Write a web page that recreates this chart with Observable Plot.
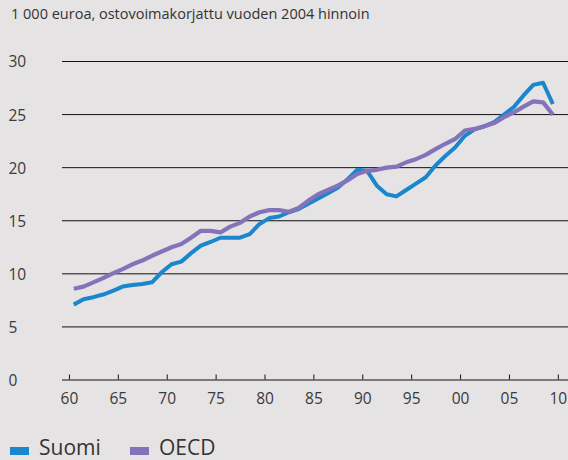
<!DOCTYPE html>
<html>
<head>
<meta charset="utf-8">
<script src="https://cdn.jsdelivr.net/npm/d3@7"></script>
<script src="https://cdn.jsdelivr.net/npm/@observablehq/plot@0.6"></script>
<style>
  html, body { margin: 0; padding: 0; background: #e5e3e4; }
  #fig { position: relative; width: 568px; height: 460px; overflow: hidden; background: #e5e3e4; font-family: "Open Sans", "Noto Sans", sans-serif; }
  #title { position: absolute; left: 11px; top: 4px; font-size: 14.5px; color: #333; white-space: nowrap; }
  #chart { position: absolute; left: 0; top: 30px; }
  .leg { position: absolute; top: 435px; font-size: 21px; color: #333; white-space: nowrap; line-height: 24px; }
  .sw { position: absolute; top: 447px; width: 19px; height: 8px; }
</style>
</head>
<body>
<div id="fig">
  <div id="title">1 000 euroa, ostovoimakorjattu vuoden 2004 hinnoin</div>
  <div id="chart"></div>
  <div class="sw" style="left:10px;background:#1a86cc"></div>
  <div class="leg" style="left:39px">Suomi</div>
  <div class="sw" style="left:130px;background:#8473b8"></div>
  <div class="leg" style="left:159px">OECD</div>
</div>
<script>
const years = d3.range(1960, 2010);
const suomi = [7.1, 7.6, 7.8, 8.05, 8.4, 8.8, 8.95, 9.05, 9.2, 10.15,
  10.9, 11.15, 11.95, 12.65, 13.0, 13.4, 13.4, 13.4, 13.75, 14.7,
  15.25, 15.4, 15.8, 16.1, 16.6, 17.1, 17.6, 18.1, 18.9, 19.8,
  19.7, 18.3, 17.5, 17.3, 17.9, 18.5, 19.1, 20.2, 21.1, 21.9,
  23.0, 23.6, 23.9, 24.3, 25.0, 25.7, 26.8, 27.8, 28.0, 26.0];
const oecd = [8.6, 8.8, 9.2, 9.6, 10.05, 10.45, 10.9, 11.25, 11.7, 12.1,
  12.5, 12.8, 13.4, 14.05, 14.05, 13.9, 14.45, 14.8, 15.4, 15.8,
  16.0, 16.0, 15.85, 16.2, 16.9, 17.5, 17.9, 18.3, 18.8, 19.4,
  19.7, 19.8, 20.0, 20.1, 20.5, 20.8, 21.2, 21.75, 22.25, 22.7,
  23.5, 23.65, 23.9, 24.2, 24.75, 25.2, 25.75, 26.25, 26.15, 25.0];
const xTicks = [1960, 1965, 1970, 1975, 1980, 1985, 1990, 1995, 2000, 2005, 2010];
const xTickLabels = ["60", "65", "70", "75", "80", "85", "90", "95", "00", "05", "10"];
const yTicks = [0, 5, 10, 15, 20, 25, 30];

const suomiData = years.map((y, i) => ({year: y, value: suomi[i]}));
const oecdData = years.map((y, i) => ({year: y, value: oecd[i]}));

const H = 400, MT = 31, MB = 50.5;
const plot = Plot.plot({
  width: 568,
  height: H,
  marginTop: MT,
  marginBottom: MB,
  marginLeft: 62,
  marginRight: 0,
  style: {background: "transparent", fontFamily: "'Open Sans', 'Noto Sans', sans-serif", color: "#3a3a3a"},
  x: {domain: [1958.85, 2010.6]},
  y: {domain: [0, 30]},
  marks: [
    Plot.gridY(yTicks, {stroke: "#111", strokeOpacity: 1, strokeWidth: 1}),
    Plot.ruleX(xTicks, {x: d => d, dx: -4.3, stroke: "#111", strokeWidth: 1, insetTop: (H - MT - MB) - 5}),
    Plot.axisX(xTicks, {tickSize: 0, tickPadding: 12.5, dx: -4.3, fontSize: 15.5, fill: "#3a3a3a",
      tickFormat: d => xTickLabels[xTicks.indexOf(d)], label: null}),
    Plot.axisY(yTicks, {tickSize: 0, tickPadding: 3, textAnchor: "start", dx: -51, dy: 1, fontSize: 15.5, fill: "#3a3a3a", label: null}),
    Plot.line(suomiData, {x: "year", y: "value", stroke: "#1a86cc", strokeWidth: 4, strokeLinejoin: "round", strokeLinecap: "butt"}),
    Plot.line(oecdData, {x: "year", y: "value", stroke: "#8473b8", strokeWidth: 4.2, strokeLinejoin: "round", strokeLinecap: "butt"})
  ]
});
document.getElementById("chart").appendChild(plot);
</script>
</body>
</html>
